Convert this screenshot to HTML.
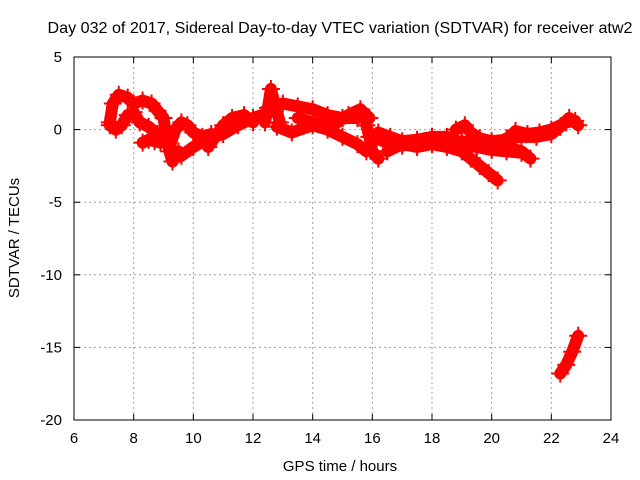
<!DOCTYPE html>
<html><head><meta charset="utf-8"><style>
body{margin:0;background:#fff}
svg{display:block;font-family:"Liberation Sans",sans-serif}
</style></head><body>
<svg id="chart" width="640" height="480" xmlns="http://www.w3.org/2000/svg">
<text x="340" y="33" font-size="16" text-anchor="middle" textLength="585" lengthAdjust="spacingAndGlyphs">Day 032 of 2017, Sidereal Day-to-day VTEC variation (SDTVAR) for receiver atw2</text>
<g id="grid"></g><g id="data"></g><g id="axes"></g>
<text x="340" y="471" font-size="15" text-anchor="middle">GPS time / hours</text>
<text transform="translate(19,238) rotate(-90)" font-size="15" text-anchor="middle">SDTVAR / TECUs</text>
</svg>
<script>
const xTicks=[6,8,10,12,14,16,18,20,22,24];
const yTicks=[5,0,-5,-10,-15,-20];
const trackHours=[
[7.2,7.3,7.5,7.8,8.0,8.3,8.6,8.8,9.0,9.1,9.2,9.3,9.5],
[7.2,7.4,7.6,7.8,8.0,8.2,8.5,8.8],
[8.3,8.5,8.7,8.9],
[9.2,9.4,9.6,9.8,10.0,10.3,10.6],
[9.6,10,10.5,11,11.5,12,12.3],
[10.5,11,11.3,11.7,12.0],
[12.4,12.5,12.6,12.7,12.9],
[13,13.5,14,14.5,15,15.5],
[12.8,13.3,14,14.5,15,15.5,15.8],
[13.5,14,14.6,15.2,15.6,15.9],
[15.8,15.9,16.0,16.2],
[16.2,16.6,17,17.5,18,18.5,19,19.5,20,20.5,21],
[16.5,17,17.5,18,18.5,19,19.3,19.6,19.9,20.2],
[18,18.5,19,19.5,20,20.5,21,21.3],
[18.8,19.1,19.3,19.6,20,20.5,20.8,21.2,21.6,22,22.5,22.8],
[20.5,21,21.5,22,22.3,22.6,22.9],
[22.3,22.5,22.7,22.9],
[16.0,16.5,17,17.5,18,18.5,19,19.5,20]];
const trackValues=[
[0.5,1.8,2.4,2.2,1.8,2.0,1.8,1.3,0.8,-0.5,-1.5,-2.2,-1.5],
[0.3,0,0.3,1.0,1.2,0.5,0.2,-0.3],
[-0.9,-0.7,-0.8,-0.9],
[-1.2,0,0.5,0.3,-0.2,-0.5,-0.3],
[-1.8,-1.2,-0.6,-0.3,0.3,0.8,1.0],
[-1.2,0.3,0.8,1.0,0.5],
[0.5,1.5,2.8,2.0,0.5],
[1.8,1.6,1.4,1.0,0.8,0.8],
[0.2,-0.2,0.3,0,-0.5,-1.0,-1.5],
[0.8,0.5,0.2,1.0,1.4,0.8],
[0.3,-0.5,-1.5,-2.0],
[-0.2,-0.5,-0.8,-0.7,-0.5,-0.5,-0.9,-1.2,-1.4,-1.5,-1.6],
[-1.5,-1.0,-1.2,-1.0,-1.2,-1.5,-2.0,-2.5,-3.0,-3.5],
[-0.8,-1.0,-1.0,-1.2,-1.3,-1.2,-1.5,-2.0],
[0,0.3,-0.2,-0.6,-0.8,-0.7,-0.1,-0.3,-0.2,0,0.5,0.6],
[-0.6,-0.5,-0.5,-0.3,0.2,0.8,0.3],
[-16.8,-16.2,-15.3,-14.2],
[-0.5,-0.9,-1.1,-0.9,-0.8,-0.9,-0.8,-1.0,-1.1]];
const X0=74,X1=611,Y0=57,Y1=420;
const xs=h=>X0+(h-6)/(24-6)*(X1-X0);
const ys=v=>Y0+(5-v)/25*(Y1-Y0);
const NS="http://www.w3.org/2000/svg";
function mk(tag,parent,attrs){const e=document.createElementNS(NS,tag);for(const k in attrs)e.setAttribute(k,attrs[k]);parent.appendChild(e);return e;}
const grid=document.getElementById('grid'),axes=document.getElementById('axes'),data=document.getElementById('data');
xTicks.forEach(t=>{const x=xs(t);
 if(t>6&&t<24){const l=mk('line',grid,{x1:x,x2:x,y1:Y0,y2:Y1,stroke:'#a0a0a0','stroke-dasharray':'2,3'});
 
 }
 mk('line',axes,{x1:x,x2:x,y1:Y1,y2:Y1-6,stroke:'#000'});mk('line',axes,{x1:x,x2:x,y1:Y0,y2:Y0+6,stroke:'#000'});
 const tx=mk('text',axes,{x:x,y:Y1+23,'font-size':15,'text-anchor':'middle'});tx.textContent=t;
 
 });
yTicks.forEach(t=>{const y=ys(t);
 if(t<5&&t>-20){const l=mk('line',grid,{x1:X0,x2:X1,y1:y,y2:y,stroke:'#a0a0a0','stroke-dasharray':'2,3'});
 
 }
 mk('line',axes,{x1:X0,x2:X0+6,y1:y,y2:y,stroke:'#000'});mk('line',axes,{x1:X1,x2:X1-6,y1:y,y2:y,stroke:'#000'});
 const tx=mk('text',axes,{x:X0-12,y:y+5,'font-size':15,'text-anchor':'end'});tx.textContent=t;
 
 });
const fr=mk('rect',axes,{x:X0,y:Y0,width:X1-X0,height:Y1-Y0,fill:'none',stroke:'#000'});


trackHours.forEach((hs,i)=>{const vs=trackValues[i];
 const pts=hs.map((h,j)=>xs(h)+','+ys(vs[j])).join(' ');
 const pl=mk('polyline',data,{points:pts,fill:'none',stroke:'#ff0000','stroke-width':12,'stroke-linejoin':'round','stroke-linecap':'round'});
 
 
 hs.forEach((h,j)=>{const x=xs(h),y=ys(vs[j]);
  const p=mk('path',data,{d:`M${x-9},${y}H${x+9}M${x},${y-9}V${y+9}`,stroke:'#ff0000','stroke-width':2});
  
  });
});
</script>
</body></html>
